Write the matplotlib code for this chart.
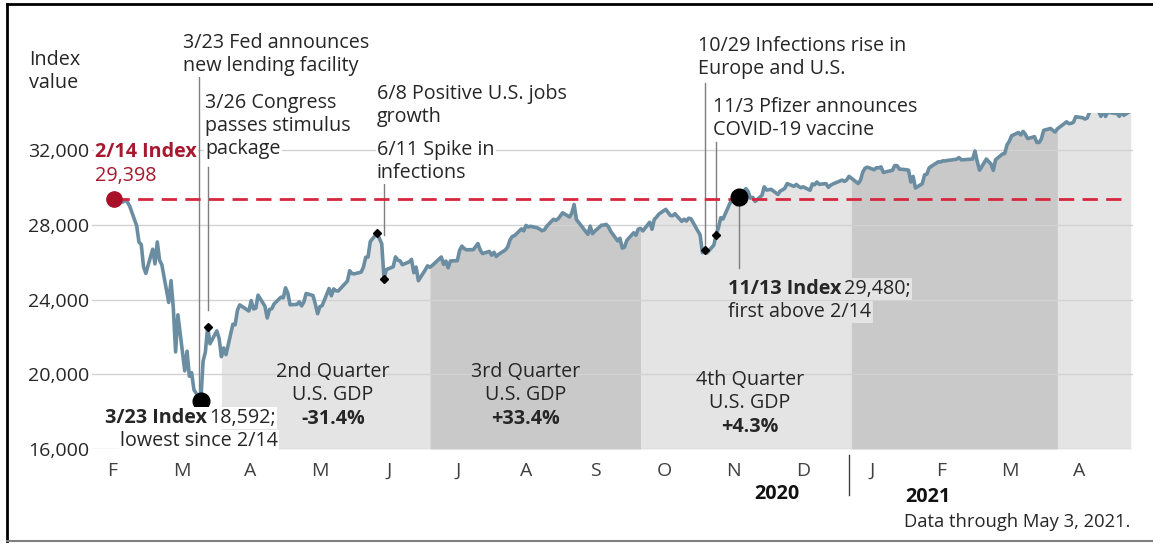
import numpy as np
import pandas as pd
import matplotlib
matplotlib.use("Agg")
import matplotlib.pyplot as plt
import matplotlib.dates as mdates
from matplotlib.lines import Line2D

plt.rcParams['font.family'] = ['Open Sans', 'DejaVu Sans']

# daily closing index values, by month (trading days only)
feb20 = [29398, 29232, 29348, 29219, 28992, 27961, 27081, 26957, 25767, 25409]
mar20 = [26703, 25917, 27091, 26121, 25865, 23851, 25018, 23553, 21200, 23186, 20189,
         21237, 19899, 20087, 19174, 18592, 20705, 21201, 22552, 21637, 22328, 21917]
apr20 = [20944, 21413, 21053, 22680, 22654, 23434, 23720, 23391, 23950, 23505, 23538,
         24242, 23650, 23019, 23475, 23516, 23775, 24134, 24102, 24634, 24346]
may20 = [23724, 23750, 23883, 23665, 23876, 24331, 24221, 23765, 23248, 23625, 23685,
         24597, 24207, 24576, 24474, 24465, 24995, 25548, 25401, 25383]
jun20 = [25475, 25742, 26270, 26282, 27111, 27572, 27272, 26990, 25128, 25606, 25763,
         26290, 26120, 26080, 25871, 26025, 26156, 25445, 25746, 25016, 25596, 25813]
jul20 = [25735, 25827, 26287, 25891, 26067, 25707, 26075, 26086, 26643, 26871, 26735,
         26672, 26681, 26840, 27006, 26652, 26470, 26585, 26379, 26540, 26314, 26428]
aug20 = [26665, 26828, 27202, 27387, 27433, 27791, 27687, 27977, 27897, 27931, 27845,
         27779, 27693, 27740, 27930, 28308, 28249, 28332, 28493, 28654, 28430]
sep20 = [28646, 29100, 28293, 28133, 27501, 27941, 27535, 27666, 27993, 27996, 28033,
         27902, 27657, 27148, 27289, 26763, 26815, 27174, 27584, 27452, 27782]
oct20 = [27817, 27683, 28149, 27773, 28303, 28426, 28587, 28838, 28680, 28515, 28495,
         28606, 28196, 28309, 28211, 28364, 28336, 27685, 27464, 26520, 26660, 26502]
nov20 = [26925, 27481, 27848, 28390, 28324, 29158, 29360, 29390, 29080, 29480, 29950,
         29784, 29438, 29483, 29263, 29591, 30046, 29873, 29910, 29639]
dec20 = [29824, 29884, 29970, 30218, 30070, 30174, 30069, 29999, 30046, 29862, 30200,
         30155, 30304, 30180, 30216, 30016, 30130, 30200, 30404, 30336, 30410, 30606]
jan21 = [30224, 30392, 30829, 31041, 31098, 30960, 31069, 31061, 31113, 30814, 30931,
         31188, 31176, 30997, 30960, 30937, 30303, 30604, 29983]
feb21 = [30212, 30688, 30724, 31056, 31148, 31386, 31376, 31438, 31431, 31458, 31523,
         31613, 31494, 31494, 31522, 31537, 31962, 31402, 30932]
mar21 = [31535, 31392, 31270, 30924, 31496, 31802, 31833, 32297, 32486, 32779, 32953,
         32826, 33015, 32862, 32628, 32732, 32423, 32420, 32619, 33073, 33171, 33067, 32982]
apr21 = [33153, 33527, 33430, 33446, 33503, 33801, 33746, 33677, 33730, 34036, 34200,
         34078, 33821, 34137, 33815, 34043, 33982, 33985, 33821, 34060, 33875]
may21 = [34113]

holidays = ['2020-02-17', '2020-04-10', '2020-05-25', '2020-07-03', '2020-09-07',
            '2020-11-26', '2020-12-25', '2021-01-01', '2021-01-18', '2021-02-15', '2021-04-02']

quarter_starts = ['2020-04-01', '2020-07-01', '2020-10-01', '2021-01-01', '2021-04-01', '2021-05-03']
gdp_labels = [('2nd Quarter', 'U.S. GDP', '-31.4%'),
              ('3rd Quarter', 'U.S. GDP', '+33.4%'),
              ('4th Quarter', 'U.S. GDP', '+4.3%')]

month_labels = ['F', 'M', 'A', 'M', 'J', 'J', 'A', 'S', 'O', 'N', 'D', 'J', 'F', 'M', 'A']
event_dates = ['2020-03-26', '2020-06-08', '2020-06-11', '2020-10-29', '2020-11-03']
low_date = '2020-03-23'
recover_date = '2020-11-13'

values = np.array(feb20 + mar20 + apr20 + may20 + jun20 + jul20 + aug20 + sep20 + oct20
                  + nov20 + dec20 + jan21 + feb21 + mar21 + apr21 + may21, dtype=float)
days = pd.bdate_range('2020-02-14', '2021-05-03')
days = days[~days.isin(pd.to_datetime(holidays))]
assert len(days) == len(values), (len(days), len(values))
s = pd.Series(values, index=days)

W, H = 1153, 546
fig = plt.figure(figsize=(W / 100, H / 100), dpi=100)
ax = fig.add_axes([92 / W, 1 - 449 / H, (1133 - 92) / W, (449 - 113) / H])

def fpos(x, y):
    return x / W, 1 - y / H

# quarter shading under the curve (curve interpolated onto quarter boundaries)
xnum = mdates.date2num(s.index)
fills = ['#E4E4E4', '#C9C9C9']
for i in range(len(quarter_starts) - 1):
    b0 = mdates.date2num(pd.Timestamp(quarter_starts[i]))
    b1 = mdates.date2num(pd.Timestamp(quarter_starts[i + 1]))
    inside = (xnum > b0) & (xnum < b1)
    xs = np.concatenate([[b0], xnum[inside], [b1]])
    ys = np.interp(xs, xnum, s.values)
    ax.fill_between(xs, 16000, ys, color=fills[i % 2], lw=0, zorder=1)

for v in [16000, 20000, 24000, 28000, 32000]:
    ax.axhline(v, color='#D2D2D2', lw=1, zorder=1.5)

ax.plot(xnum, s.values, color='#6A8DA2', lw=2.6, zorder=3, solid_joinstyle='round')

base = s.iloc[0]
ax.hlines(base, xnum[0], mdates.date2num(pd.Timestamp('2021-05-01')), colors='#D7263D', lw=2,
          linestyles=(0, (5.5, 3)), zorder=4)
ax.plot(xnum[:1], [base], 'o', color='#A8102A', ms=11, zorder=5)

low_day = pd.Timestamp(low_date)
rec_day = pd.Timestamp(recover_date)
ax.plot(mdates.date2num([low_day, rec_day]), [s[low_day], s[rec_day]], 'o', color='black',
        ms=12, zorder=5)

ev = pd.to_datetime(event_dates)
ax.plot(mdates.date2num(ev), s[ev].values, 'D', color='black', ms=4.5, zorder=5)

# leader lines
lead = '#7F7F7F'
def leader(day, y0, y1):
    d = mdates.date2num(pd.Timestamp(day))
    ax.plot([d, d], [y0, y1], color=lead, lw=1, zorder=2, clip_on=False)

leader(low_day - pd.Timedelta(days=1), s[low_day], 36030)
leader('2020-03-26', 23450, 31100)
leader('2020-06-11', 27460, 30250)
leader('2020-10-29', s['2020-10-29'], 35600)
leader('2020-11-03', 27600, 32440)
leader(rec_day, s[rec_day], 25700)

ax.set_ylim(16000, 34000)
ax.set_xlim(mdates.date2num(pd.Timestamp('2020-02-04 12:00')), mdates.date2num(pd.Timestamp('2021-05-04')))
ax.set_yticks([16000, 20000, 24000, 28000, 32000])
ax.set_yticklabels(['16,000', '20,000', '24,000', '28,000', '32,000'])
tick_pos = [mdates.date2num(pd.Timestamp('2020-02-14')) - 0.5 + i * 30.13 for i in range(len(month_labels))]
ax.set_xticks(tick_pos)
ax.set_xticklabels(month_labels)
ax.tick_params(axis='both', length=0, labelsize=14, labelcolor='#262626')
ax.tick_params(axis='x', pad=9, labelcolor='#404040')
ax.tick_params(axis='y', pad=2)
for sp in ax.spines.values():
    sp.set_visible(False)

FS = 14.2
txt = dict(fontsize=FS, color='#262626')
wb = dict(facecolor='white', edgecolor='none', pad=1)
gb = dict(facecolor='#E4E4E4', edgecolor='none', pad=1)

def lines(x, y, rows, step=23, ha='left', bold_last=False, box=None, **kw):
    for i, r in enumerate(rows):
        w = 'bold' if (bold_last and i == len(rows) - 1) else 'normal'
        fig.text(*fpos(x, y + i * step), r, ha=ha, va='center', fontweight=w, bbox=box,
                 **{**txt, **kw})

lines(29, 60, ['Index', 'value'])
lines(183, 43, ['3/23 Fed announces', 'new lending facility'], box=wb)
lines(205, 103, ['3/26 Congress', 'passes stimulus', 'package'], box=wb)
lines(377, 94, ['6/8 Positive U.S. jobs', 'growth'], box=wb)
lines(377, 150, ['6/11 Spike in', 'infections'], box=wb)
lines(698, 46, ['10/29 Infections rise in', 'Europe and U.S.'], box=wb)
lines(713, 107, ['11/3 Pfizer announces', 'COVID-19 vaccine'], box=wb)

fig.text(*fpos(95, 152), '2/14 Index', ha='left', va='center', fontsize=FS,
         fontweight='bold', color='#A6192E', bbox=wb)
fig.text(*fpos(95, 176), f'{base:,.0f}', ha='left', va='center', fontsize=FS,
         color='#A6192E', bbox=wb)

def mixed(x, y, bold, rest, box):
    t = fig.text(*fpos(x, y), bold, ha='left', va='center', fontweight='bold', bbox=box, **txt)
    fig.canvas.draw()
    bb = t.get_window_extent()
    fig.text(bb.x1 / W + 0.002, 1 - y / H, rest, ha='left', va='center', bbox=box, **txt)

mixed(105, 418, f'{low_day.month}/{low_day.day} Index', f'{s[low_day]:,.0f};', wb)
lines(120, 441, ['lowest since 2/14'], box=wb)
mixed(728, 289, f'{rec_day.month}/{rec_day.day} Index', f'{s[rec_day]:,.0f};', gb)
lines(728, 312, ['first above 2/14'], box=gb)

for (cx, cy), rows in zip([(333, 372), (526, 372), (750, 380)], gdp_labels):
    lines(cx, cy, rows, ha='center', bold_last=True, step=23.5)

fig.text(*fpos(777, 494), '2020', ha='center', va='center', fontsize=FS, fontweight='bold', color='#111111')
fig.text(*fpos(928, 497), '2021', ha='center', va='center', fontsize=FS, fontweight='bold', color='#111111')
fig.add_artist(Line2D([849 / W] * 2, [1 - 455 / H, 1 - 495 / H], color='#404040', lw=1))
fig.text(*fpos(1130, 522), 'Data through May 3, 2021.', ha='right', va='center', fontsize=13.2, color='#262626')

# frame around the graphic
fig.add_artist(Line2D([7 / W, 1], [1 - 4 / H] * 2, color='black', lw=2))
fig.add_artist(Line2D([7 / W] * 2, [1 - 4 / H, 1 - 541 / H], color='black', lw=2))
fig.add_artist(Line2D([7 / W, 1], [1 - 541 / H] * 2, color='#7F7F7F', lw=1.5))

fig.savefig('out.png', dpi=100)
